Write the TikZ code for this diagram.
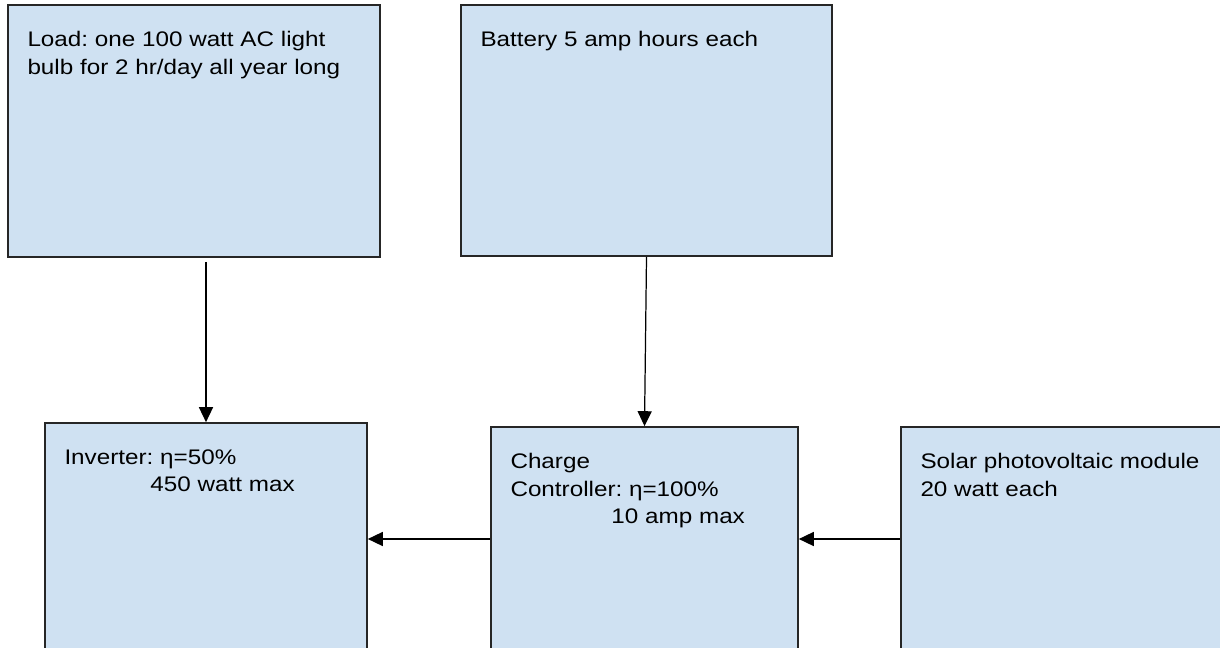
\documentclass[tikz,border=0pt]{standalone}
\usepackage{fontspec}
\setmainfont{Liberation Sans}[FakeStretch=1.15]
\frenchspacing
\usetikzlibrary{arrows.meta}
\definecolor{boxblue}{RGB}{207,225,242}
\tikzset{
  block/.style={draw=black!85, line width=1pt, fill=boxblue, rectangle, inner sep=0pt},
  blocktext/.style={anchor=north west, inner sep=0pt, align=left, font=\fontsize{12}{15.6}\selectfont},
  flow/.style={-{Triangle[length=8.5pt,width=8pt]}, line width=0.7pt}
}
\begin{document}
\begin{tikzpicture}[x=0.02cm, y=-0.02cm]
        \useasboundingbox (0,0) rectangle (1220,648);
        \clip (0,0) rectangle (1220,648);

        % Boxes
        \node[block, minimum width=7.44cm, minimum height=5.04cm] (load) at (194,131) {};
        \node[block, minimum width=7.42cm, minimum height=5.02cm] (battery) at (646.5,130.5) {};
        \node[block, minimum width=6.44cm, minimum height=4.64cm] (inverter) at (206,539) {};
        \node[block, minimum width=6.14cm, minimum height=4.48cm] (controller) at (644.5,539) {};
        \node[block, minimum width=6.8cm, minimum height=4.48cm] (solar) at (1071,539) {};

        % Texts
        \node[blocktext] (loadtext) at ([shift={(20,27)}]load.north west)
            {Load: one 100 watt AC light\\bulb for 2 hr/day all year long};
        \node[blocktext] (batterytext) at ([shift={(20,27)}]battery.north west)
            {Battery 5 amp hours each};
        \node[blocktext] (invertertext) at ([shift={(20,27)}]inverter.north west)
            {Inverter: η=50\%\\\hspace*{1.72cm}450 watt max};
        \node[blocktext] (controllertext) at ([shift={(20,27)}]controller.north west)
            {Charge\\Controller: η=100\%\\\hspace*{2.02cm}10 amp max};
        \node[blocktext] (solartext) at ([shift={(20,27)}]solar.north west)
            {Solar photovoltaic module\\20 watt each};

        % Connectors
        \draw[flow, shorten <=0.08cm] (load.south -| inverter.north) -- (inverter.north);
        \draw[flow] (battery.south) -- (controller.north);
        \draw[flow] (controller.west) -- (inverter.east);
        \draw[flow] (solar.west) -- (controller.east);
    \end{tikzpicture}
\end{document}
